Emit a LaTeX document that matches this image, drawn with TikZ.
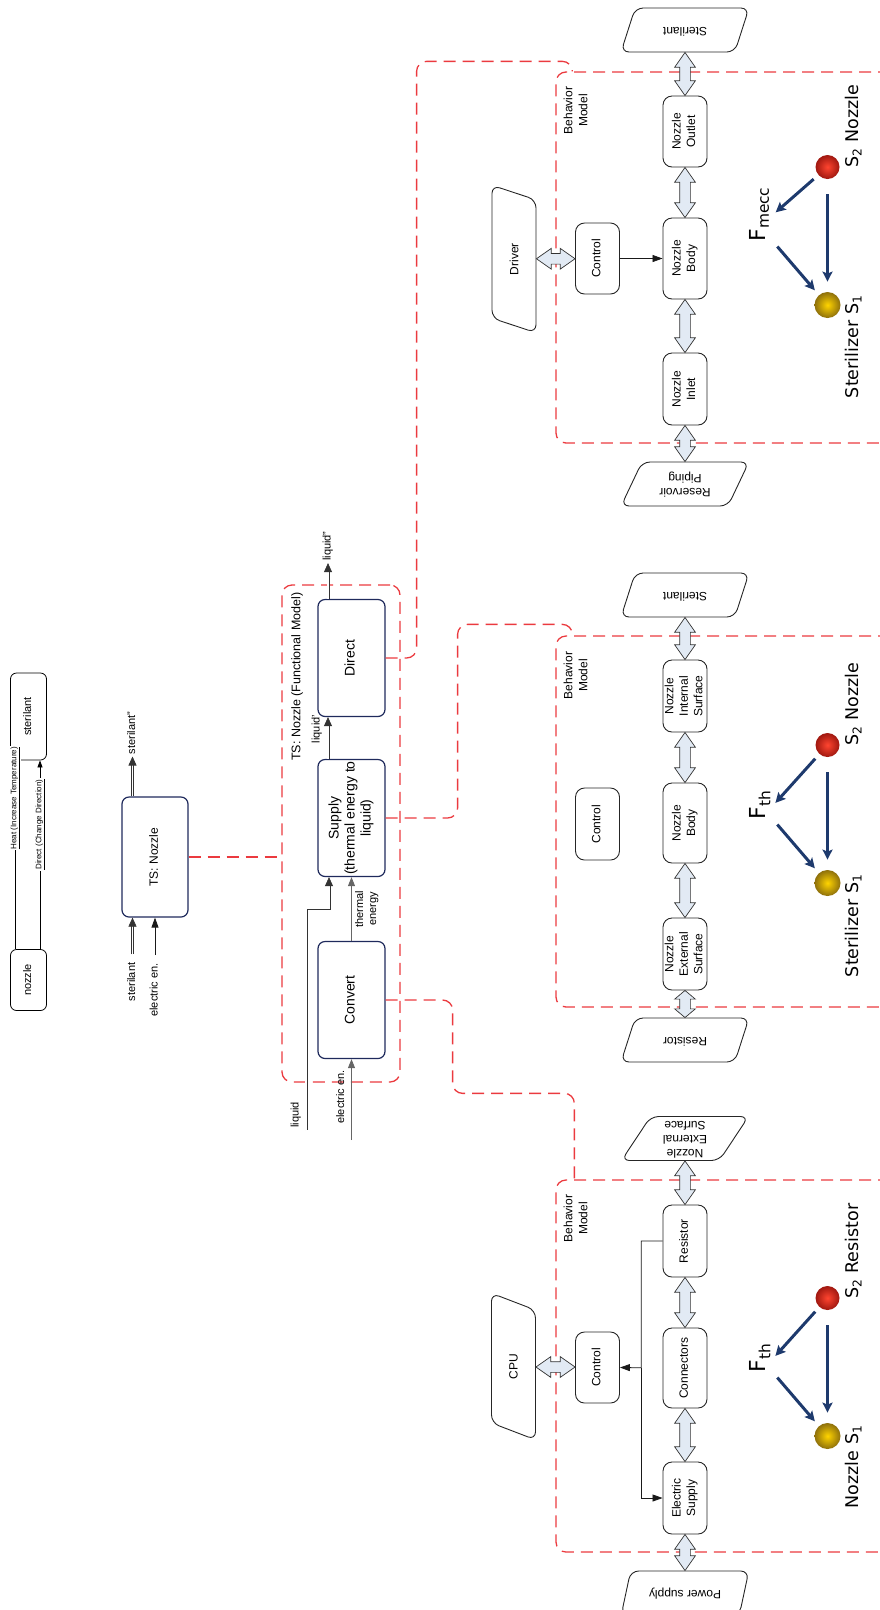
\documentclass[tikz,border=0pt]{standalone}
\usepackage{fontspec}
\setmainfont{Liberation Sans}
\newfontfamily\ballfont{DejaVu Sans}
\usepackage{graphicx}
\usetikzlibrary{calc,arrows.meta,shapes.geometric,shapes.arrows}
\definecolor{tsnavy}{HTML}{1F2A5C}
\definecolor{tsred}{HTML}{EB3A3F}
\definecolor{tsforce}{HTML}{1E3A6D}
\definecolor{tsfat}{HTML}{E2EAF4}
\definecolor{redcore}{HTML}{FF4530}
\definecolor{redrim}{HTML}{A01810}
\definecolor{goldcore}{HTML}{FFD400}
\definecolor{goldrim}{HTML}{8E700C}

\newcommand{\turned}[1]{\rotatebox{90}{\begin{tabular}{@{}c@{}}#1\end{tabular}}}
\newcommand{\flipped}[1]{\rotatebox{180}{\begin{tabular}{@{}c@{}}#1\end{tabular}}}
\newcommand{\fatlink}[3][rotate=90]{%
  \path let \p1=($(#3)-(#2)$), \n1={veclen(\x1,\y1)} in
    node[fatarrow, minimum height=\n1, #1] at ($(#2)!0.5!(#3)$) {};}

\begin{document}
\begin{tikzpicture}[x=1pt, y=-1pt, line width=0.8pt,
  plainbox/.style={draw, rounded corners=6pt, minimum width=36pt, inner sep=0pt,
    font=\fontsize{11}{13}\selectfont},
  tsbox/.style={draw=tsnavy, line width=1.2pt, rounded corners=7pt,
    minimum width=67pt, minimum height=117pt, inner sep=0pt,
    font=\fontsize{14}{16}\selectfont},
  partbox/.style={draw=black!85, line width=0.9pt, rounded corners=9pt,
    minimum width=44pt, inner sep=0pt, font=\fontsize{12}{14.5}\selectfont},
  extio/.style={draw=black!85, line width=0.9pt, trapezium, trapezium left angle=66,
    trapezium right angle=114, trapezium stretches=true, rounded corners=8pt,
    minimum width=128pt, minimum height=44pt, inner sep=0pt,
    font=\fontsize{12}{14}\selectfont},
  fatarrow/.style={double arrow, draw=black!80, fill=tsfat, line width=0.7pt,
    double arrow head extend=5pt, double arrow tip angle=70,
    inner xsep=0pt, inner ysep=5pt},
  modelline/.style={draw=tsred, line width=1.3pt, dash pattern=on 12pt off 7pt,
    rounded corners=10pt},
  modeltag/.style={inner sep=0pt, font=\fontsize{12}{15}\selectfont},
  fmtag/.style={inner sep=0pt, font=\fontsize{12.5}{15}\selectfont},
  fntag/.style={fill=white, inner sep=1pt, font=\fontsize{8}{9}\selectfont},
  flowtag/.style={inner sep=2pt, font=\fontsize{11}{13}\selectfont},
  matflow/.style={draw=black!80, line width=0.6pt, double=white, double distance=1.8pt,
    -{Triangle[length=9pt,width=8pt]}},
  sigflow/.style={draw=black!60, line width=0.9pt, -{Triangle[length=9pt,width=7pt]}},
  ctlflow/.style={draw=black!90, line width=0.8pt, -{Triangle[length=10pt,width=7pt]}},
  fnflow/.style={draw, line width=0.7pt, -{Triangle[length=7pt,width=5pt]}},
  force/.style={draw=tsforce, line width=3pt, -{Stealth[length=10pt,width=10pt,inset=2pt]}},
  s2ball/.style={circle, minimum size=24pt, inner sep=0pt, inner color=redcore, outer color=redrim},
  s1ball/.style={circle, minimum size=26pt, inner sep=0pt, inner color=goldcore, outer color=goldrim},
  balltag/.style={inner sep=0pt, font=\ballfont\fontsize{17.5}{21}\selectfont},
  forcetag/.style={inner sep=0pt, font=\ballfont\fontsize{22}{24}\selectfont}]

  \useasboundingbox (0,0) rectangle (880,1610);
  \clip (0,0) rectangle (880,1610);

  % function tree: what the nozzle does to the sterilant
  \node[plainbox, minimum height=61pt] (noz) at (28.5,980) {\turned{nozzle}};
  \node[plainbox, minimum height=87pt] (ster) at (28.5,716.5) {\turned{sterilant}};
  \draw[fnflow] ($(noz.north)+(-13.5,0)$) -- ($(ster.south)+(-13.5,0)$)
    node[fntag, pos=0.8] {\turned{\underline{Heat (Increase Temperature)}}};
  \draw[fnflow] ($(noz.north)+(11.5,0)$) -- ($(ster.south)+(11.5,0)$)
    node[fntag, pos=0.66] {\turned{\underline{Direct (Change Direction)}}};

  % technical system as a black box
  \node[tsbox, minimum width=66pt, minimum height=120pt, font=\fontsize{12}{14}\selectfont]
    (ts) at (155,857) {\turned{TS: Nozzle}};
  \node[flowtag] (tsin1) at (132.5,982) {\turned{sterilant}};
  \node[flowtag] (tsin2) at (155,990) {\turned{electric en.}};
  \node[flowtag] (tsout) at (132.5,733) {\turned{sterilant''}};
  \draw[matflow, shorten <=6pt] (tsin1) -- (ts.south -| tsin1);
  \draw[ctlflow, shorten <=6pt] (tsin2) -- (ts.south -| tsin2);
  \draw[matflow] (ts.north -| tsout) -- (tsout);

  % functional model of the nozzle
  \node[modelline, minimum width=118pt, minimum height=497pt] (fm) at (341,833.5) {};
  \draw[modelline] (ts.east) -- (ts.east -| fm.west);
  \node[fmtag, anchor=north west] at ($(fm.north west)+(8,8)$)
    {\turned{TS: Nozzle (Functional Model)}};
  \node[tsbox] (direct) at (351.5,658) {\turned{Direct}};
  \node[tsbox] (supply) at (351.5,818) {\turned{Supply\\(thermal energy to\\liquid)}};
  \node[tsbox] (convert) at (351.5,1000) {\turned{Convert}};

  \node[flowtag] (lqout) at (328,546) {\turned{liquid''}};
  \draw[matflow] (direct.north -| lqout) -- (lqout);
  \draw[matflow] (supply.north -| lqout) -- (direct.south -| lqout);
  \node[flowtag] at (317,729) {\turned{liquid'}};

  \coordinate (lqsrc) at (306,1130);
  \node[flowtag, anchor=south east] at ($(lqsrc)+(-1,0)$) {\turned{liquid}};
  \draw[matflow] (lqsrc) |- ($(supply.south)+(-22.5,31)$) -- ($(supply.south)+(-22.5,0)$);
  \draw[sigflow] (convert.north) -- (supply.south)
    node[flowtag, midway, right] {\turned{thermal\\energy}};
  \coordinate (elsrc) at (351.5,1140);
  \node[flowtag, anchor=south east] at ($(elsrc)+(-1,-14)$) {\turned{electric en.}};
  \draw[sigflow] (elsrc) -- (convert.south);

  % behavior model: nozzle directing the sterilant
  \node[modelline, minimum width=344pt, minimum height=371pt] (bmA) at (728,257.5) {};
  \draw[modelline] (direct.east) -- ++(31,0) |- ($(bmA.north west)+(17,-10)$)
    -- ($(bmA.north west)+(17,0)$);
  \node[modeltag, anchor=north west] at ($(bmA.north west)+(6,15)$) {\turned{Behavior\\Model}};
  \node[extio] (sterA) at (685,30) {\flipped{Sterilant}};
  \node[partbox, minimum height=71pt] (outA) at (685,131.5) {\turned{Nozzle\\Outlet}};
  \node[partbox, minimum height=81pt] (bodyA) at (685,258.5) {\turned{Nozzle\\Body}};
  \node[partbox, minimum height=72pt] (inA) at (685,389) {\turned{Nozzle\\Inlet}};
  \node[extio] (resvA) at (685,484) {\flipped{Reservoir\\Piping}};
  \node[partbox, minimum height=71pt] (ctrlA) at (597.5,258.5) {\turned{Control}};
  \node[extio, rotate=90, minimum width=148pt] (drvA) at (514,259) {Driver};
  \fatlink{sterA.south}{outA.north}
  \fatlink{outA.south}{bodyA.north}
  \fatlink{bodyA.south}{inA.north}
  \fatlink{inA.south}{resvA.north}
  \fatlink[rotate=0]{drvA.south}{ctrlA.west}
  \draw[ctlflow] (ctrlA) -- (bodyA);

  \node[s2ball] (s2A) at (827.5,167) {};
  \node[s1ball] (s1A) at (827.5,305) {};
  \node[forcetag, anchor=south] (fA) at (761,242) {\turned{F\textsubscript{mecc}}};
  \node[balltag, anchor=south west] at ($(s2A)+(16,1)$) {\turned{S\textsubscript{2} Nozzle}};
  \node[balltag, anchor=north west] at ($(s1A)+(16,-10)$) {\turned{Sterilizer S\textsubscript{1}}};
  \draw[force, shorten <=6pt, shorten >=3pt] (s2A) -- (fA.east);
  \draw[force, shorten <=6pt, shorten >=6pt] (fA.south east) -- (s1A);
  \draw[force, shorten <=15pt, shorten >=10pt] (s2A) -- (s1A);

  % behavior model: nozzle heating the sterilant
  \node[modelline, minimum width=344pt, minimum height=371pt] (bmB) at (728,821.5) {};
  \draw[modelline] (supply.east) -- ++(72,0) |- ($(bmB.north west)+(17,-11)$)
    -- ($(bmB.north west)+(17,0)$);
  \node[modeltag, anchor=north west] at ($(bmB.north west)+(6,16)$) {\turned{Behavior\\Model}};
  \node[extio] (sterB) at (685,595) {\flipped{Sterilant}};
  \node[partbox, minimum height=72pt] (isB) at (685,696) {\turned{Nozzle\\Internal\\Surface}};
  \node[partbox, minimum height=80pt] (bodyB) at (685,823) {\turned{Nozzle\\Body}};
  \node[partbox, minimum height=72pt] (esB) at (685,954) {\turned{Nozzle\\External\\Surface}};
  \node[extio] (resB) at (685,1040) {\flipped{Resistor}};
  \node[partbox, minimum height=72pt] (ctrlB) at (597.5,824) {\turned{Control}};
  \fatlink{sterB.south}{isB.north}
  \fatlink{isB.south}{bodyB.north}
  \fatlink{bodyB.south}{esB.north}
  \fatlink[rotate=90, double arrow tip angle=100]{esB.south}{resB.north}

  \node[s2ball] (s2B) at (827.5,745) {};
  \node[s1ball] (s1B) at (827.5,883) {};
  \node[forcetag, anchor=south] (fB) at (761,820) {\turned{F\textsubscript{th}}};
  \node[balltag, anchor=south west] at ($(s2B)+(16,1)$) {\turned{S\textsubscript{2} Nozzle}};
  \node[balltag, anchor=north west] at ($(s1B)+(16,-9)$) {\turned{Sterilizer S\textsubscript{1}}};
  \draw[force, shorten <=6pt, shorten >=3pt] (s2B) -- (fB.east);
  \draw[force, shorten <=6pt, shorten >=6pt] (fB.south east) -- (s1B);
  \draw[force, shorten <=15pt, shorten >=10pt] (s2B) -- (s1B);

  % behavior model: resistor converting electric energy
  \node[modelline, minimum width=344pt, minimum height=372pt] (bmC) at (728,1366) {};
  \draw[modelline] (convert.east) -- ++(67,0) |- ($(bmC.north west)+(19,-86)$)
    -- ($(bmC.north west)+(19,0)$);
  \node[modeltag, anchor=north west] at ($(bmC.north west)+(6,15)$) {\turned{Behavior\\Model}};
  \node[extio] (nesC) at (685,1138.5) {\flipped{Nozzle\\External\\Surface}};
  \node[partbox, minimum height=72pt] (resC) at (685,1241) {\turned{Resistor}};
  \node[partbox, minimum height=80pt] (conC) at (685,1368) {\turned{Connectors}};
  \node[partbox, minimum height=72pt] (esC) at (685,1498) {\turned{Electric\\Supply}};
  \node[extio] (pwrC) at (685,1593) {\flipped{Power supply}};
  \node[partbox, minimum height=71pt] (ctrlC) at (597.5,1367.5) {\turned{Control}};
  \node[extio, rotate=90, minimum width=147pt] (cpuC) at (513.5,1366.5) {CPU};
  \fatlink{nesC.south}{resC.north}
  \fatlink{resC.south}{conC.north}
  \fatlink{conC.south}{esC.north}
  \fatlink{esC.south}{pwrC.north}
  \fatlink[rotate=0]{cpuC.south}{ctrlC.west}
  \coordinate (jC) at ($(ctrlC.east)!0.5!(conC.west)$);
  \draw[ctlflow] (resC.west) -| (jC) -- (ctrlC.east);
  \draw[ctlflow] (jC) |- (esC.west);

  \node[s2ball] (s2C) at (827.5,1298) {};
  \node[s1ball] (s1C) at (827.5,1436) {};
  \node[forcetag, anchor=south] (fC) at (761,1373) {\turned{F\textsubscript{th}}};
  \node[balltag, anchor=south west] at ($(s2C)+(16,1)$) {\turned{S\textsubscript{2} Resistor}};
  \node[balltag, anchor=north west] at ($(s1C)+(16,-11)$) {\turned{Nozzle S\textsubscript{1}}};
  \draw[force, shorten <=6pt, shorten >=3pt] (s2C) -- (fC.east);
  \draw[force, shorten <=6pt, shorten >=6pt] (fC.south east) -- (s1C);
  \draw[force, shorten <=15pt, shorten >=10pt] (s2C) -- (s1C);
\end{tikzpicture}
\end{document}
